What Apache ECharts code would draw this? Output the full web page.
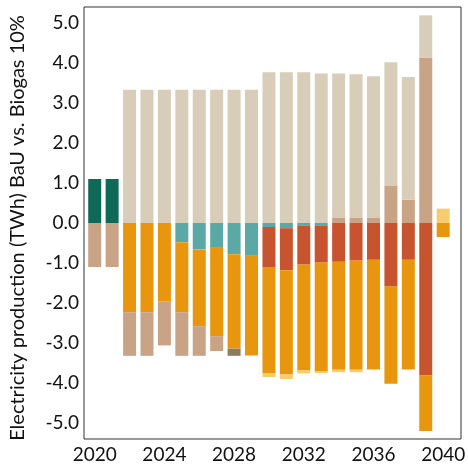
<!DOCTYPE html>
<html>
<head>
<meta charset="utf-8">
<script src="https://cdn.jsdelivr.net/npm/echarts@6/dist/echarts.min.js"></script>
<style>
  html, body { margin: 0; padding: 0; background: #fff; }
  #chart { width: 468px; height: 464px; }
</style>
</head>
<body>
<div id="chart"></div>
<script>
// years on the x axis
var years = ['2020', '2021', '2022', '2023', '2024', '2025', '2026', '2027', '2028', '2029', '2030',
  '2031', '2032', '2033', '2034', '2035', '2036', '2037', '2038', '2039', '2040']
var yTicks = [-5, -4, -3, -2, -1, 0, 1, 2, 3, 4, 5]

// segment sizes (TWh), stacked in series order
var green = [1.1, 1.1, null, null, null, null, null, null, null, null, null,
  null, null, null, null, null, null, null, null, null, null]
var teal = [null, null, null, null, null, -0.48, -0.66, -0.60, -0.78, -0.82, -0.10,
  -0.13, -0.07, -0.06, null, null, null, null, null, null, null]
var red = [null, null, null, null, null, null, null, null, null, null, -1.00,
  -1.05, -0.97, -0.93, -0.97, -0.94, -0.92, -1.59, -0.92, -3.81, null]
var orange = [null, null, -2.23, -2.23, -1.96, -1.75, -1.92, -2.23, -2.36, -2.49, -2.65,
  -2.61, -2.65, -2.71, -2.70, -2.73, -2.74, -2.43, -2.74, -1.39, -0.35]
var brown = [-1.1, -1.1, -1.09, -1.09, -1.10, -1.09, -0.74, -0.37, null, null, null,
  null, null, null, 0.14, 0.14, 0.14, 0.94, 0.58, 4.14, null]
var olive = [null, null, null, null, null, null, null, null, -0.18, null, null,
  null, null, null, null, null, null, null, null, null, null]
var tan = [null, null, 3.33, 3.33, 3.33, 3.33, 3.33, 3.33, 3.33, 3.33, 3.77,
  3.77, 3.77, 3.74, 3.60, 3.58, 3.53, 3.08, 3.07, 1.05, null]
var yellow = [null, null, null, null, null, null, null, null, null, null, -0.10,
  -0.11, -0.07, -0.05, -0.06, -0.06, null, null, null, null, 0.36]

var colors = {
  green: '#0e6a57',
  teal: '#5ba9a6',
  red: '#c8532f',
  orange: '#e8960e',
  brown: '#c9a385',
  olive: '#8c7b5c',
  tan: '#d7cdb9',
  yellow: '#f6cc6c'
}

function mkSeries(name, arr) {
  return {
    name: name,
    type: 'bar',
    stack: 'all',
    xAxisIndex: 1,
    yAxisIndex: 1,
    barWidth: 13,
    itemStyle: { color: colors[name] },
    data: arr
  }
}

var chart = echarts.init(document.getElementById('chart'))
var font = 'Lato, "Open Sans", sans-serif'

var option = {
  animation: false,
  // grid 0 = frame + y labels, grid 1 = bars (starts a little right of the y axis)
  grid: [
    { left: 82, right: 7, top: 7, bottom: 25, show: true, borderColor: '#333', borderWidth: 1 },
    { left: 86, right: 7, top: 7, bottom: 25 }
  ],
  xAxis: [
    { type: 'value', gridIndex: 0, min: 0, max: 1, show: false },
    {
      type: 'category',
      gridIndex: 1,
      data: years,
      axisLine: { show: false },
      axisTick: { show: false },
      axisLabel: {
        interval: 3,
        color: '#111',
        fontSize: 19,
        fontFamily: font,
        margin: 6
      }
    }
  ],
  yAxis: [
    {
      type: 'value',
      gridIndex: 0,
      min: -5.4,
      max: 5.4,
      splitLine: { show: false },
      axisLine: { show: false },
      axisTick: { show: false },
      axisLabel: {
        customValues: yTicks,
        color: '#111',
        fontSize: 19,
        fontFamily: font,
        margin: 5,
        formatter: function (v) { return v.toFixed(1) }
      },
      name: 'Electricity production (TWh) BaU vs. Biogas 10%',
      nameLocation: 'middle',
      nameGap: 56,
      nameTextStyle: { color: '#111', fontSize: 20, fontFamily: font, padding: [0, 10, 0, 0] }
    },
    { type: 'value', gridIndex: 1, min: -5.4, max: 5.4, show: false }
  ],
  series: [
    mkSeries('green', green),
    mkSeries('teal', teal),
    mkSeries('red', red),
    mkSeries('orange', orange),
    mkSeries('brown', brown),
    mkSeries('olive', olive),
    mkSeries('tan', tan),
    mkSeries('yellow', yellow)
  ]
}

chart.setOption(option)
</script>
</body>
</html>
